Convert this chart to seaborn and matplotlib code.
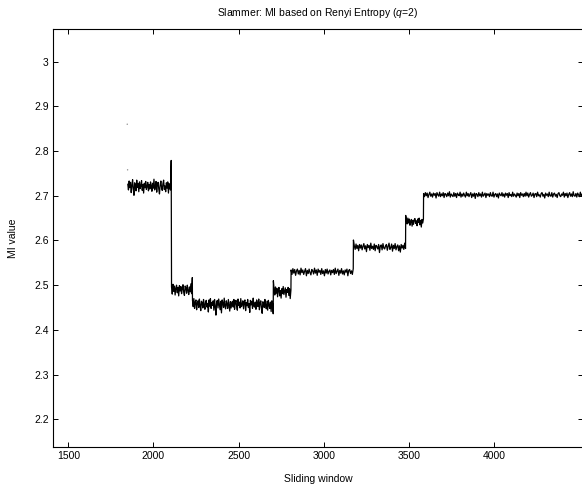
import numpy as np
import pandas as pd
import seaborn as sns
import matplotlib
matplotlib.use("Agg")
import matplotlib.pyplot as plt

# step segments: first window, last window, MI level
seg_starts = [1849, 2106, 2229, 2704, 2808, 3174, 3481, 3586]
seg_ends = [2104, 2228, 2703, 2807, 3173, 3480, 3585, 4522]
seg_levels = [2.721, 2.490, 2.458, 2.486, 2.530, 2.585, 2.642, 2.702]

# wiggle around each level, in thousandths
A_dev = [5, -8, 12, -3, 9, -14, 2, 15, -6, -20, 8, 3, -10, 14, -2, 6,
         -12, 10, -5, 1, 13, -9, 4, -15, 7, -3, 11, -7, 0, 9, -10, 4,
         -6, 10, 2, -11, 7, -4, 16, -8, -1, 11, -13, 5, 9, -6, -17, 3,
         12, -2, -9, 6, 14, -7, 1, -12, 8, -4, 10, -15, 6, -3, -8, 58]
B_dev = [6, -10, 12, -4, 8, -12, 3, 10, -7, 5, -14, 9, -3, 7, -9,
         2, 11, -6, -13, 8, 4, -8, 10, -2, -11, 6, -5, 13, -9, 27]
C_dev = [8, -6, 12, -10, 4, 9, -13, 2, 7, -8, 11, -4, -15, 6, 3, -9, 10, -2,
         -12, 5, 8, -7, 1, -18, 9, -5, 12, -10, 3, -3, 7, -14, 10, -6, -25, 4,
         8, -9, 11, -2, -13, 6, -20, 9, 2, -8, 13, -5, -11, 7, 0, -10, 10, -4,
         -16, 5, -9, 3, 6, -7, 10, -12, 2, 8, -5, -14, 11, -3, 4, -9, 12, -6,
         -1, 7, -11, 5, 9, -15, 3, -4, 10, -8, 1, -19, 8, -2, 6, -10, 13, -5,
         -7, 4, -12, 9, 0, -6, 11, -13, 3, 7, -9, -21, 5, 2, -8, 10, -4, -11,
         6, -14, 8, -3, -10, 4, -17, 7, 1, -22]
D_dev = [24, 5, -8, 10, -4, 7, -12, 3, 9, -10, 2, -15, 6,
         -5, 11, -7, 1, 8, -13, 4, -2, 9, -9, 6, -16, 3]
E_dev = [4, -6, 7, -3, 5, -8, 2, 6, -5, 3, -7, 8, -2, 4, -6, 1, 7, -9, 3, -4,
         6, -2, -7, 5, 2, -5, 8, -3, 4, -8, 6, -1, 3, -6, 7, -4, 2, -9, 5, -3,
         6, -5, 1, 4, -7, 3, -2, 5, -6, 8, -4, 1, 6, -8, 3, -3, 7, -5, 2, -7,
         4, -1, 6, -9, 3, 5, -4, 2, -6, 7]
F_dev = [16, 3, -5, 7, -3, 4, -8, 6, -2, 5, -6, 2, 8, -4, 3, -10, 6, -1, 4,
         -7, 9, -3, 2, -5, 7, -8, 4, 1, -4, 6, -12, 3, 5, -6, 8, -2, -4, 3,
         6, -7, 2, 9, -5, -1, 7, -9, 4, -3, 8, -6, 1, 5, -8, 3, -11, 6, -2,
         4, -5, 9, -3]
G_dev = [14, 2, -5, 8, -3, 6, -8, 1, 5, -10, 3, -6, 4,
         7, -4, 2, -9, 6, -2, 8, -7, 3, -12, 5, -3, 6]
H_dev = [3, -4, 5, -2, 4, -6, 1, 6, -3, 2, -5, 4, -1, 3, -7, 5, 0, -3, 6, -4,
         2, -2, 5, -6, 3, 1, -4, 4, -2, 7, -5, 2, -1, -4, 5, -3, 3, -6, 4, 0,
         -2, 6, -5, 2, -3, 4, -1, -5, 6, -2, 3, -4, 1, 5, -6, 2, -3, 4, -8, 3,
         1, -4, 5, -2, 2, -5, 6, -3, 0, 4, -6, 3, -1, 2, -4, 5, -2, -3, 6, -5,
         1, 3, -4, 2, -7, 4, 0, -2, 5, -3, 2, -5, 4, -1, 3, -6, 5, -2, 1, -4,
         6, -3, 2, -1, -5, 4, -2, 3, -6, 5, -1, 2, -4, 3, -3, 6, -2, 4, -5, 1,
         5, -3, -1, 4, -6, 2, 3, -4, 6, -2, 0, -5, 3, 5, -3, 1, -7, 4, -1, 2,
         -4, 6, -2, -3, 5, -5, 2, 4, -3, 1, -6, 3, 5, -2, -4, 2, -1, 6, -5, 3,
         -2, 4, -6, 1, 5, -3, 2, -4, 7, -2, -3, 3, -5, 4, 0, -4, 6, -3, 2, -1]
deviations = [A_dev, B_dev, C_dev, D_dev, E_dev, F_dev, G_dev, H_dev]

# two stray points before the first segment
stray_x = [1846, 1848]
stray_y = [2.860, 2.758]

yticks = [2.2, 2.3, 2.4, 2.5, 2.6, 2.7, 2.8, 2.9, 3.0]
ytick_labels = ["2.2", "2.3", "2.4", "2.5", "2.6", "2.7", "2.8", "2.9", "3"]
xticks = [1500, 2000, 2500, 3000, 3500, 4000]

windows, values = [], []
for start, end, level, dev in zip(seg_starts, seg_ends, seg_levels, deviations):
    windows.extend(np.linspace(start, end, len(dev)))
    values.extend(level + np.array(dev) / 1000.0)
df = pd.DataFrame({"window": windows, "mi": values})

sns.set_style("ticks")
plt.rcParams["font.family"] = ["Liberation Sans", "DejaVu Sans"]
plt.rcParams["mathtext.fontset"] = "custom"
plt.rcParams["mathtext.it"] = "Liberation Sans:italic"
plt.rcParams["mathtext.rm"] = "Liberation Sans"
plt.rcParams["text.color"] = "black"
plt.rcParams["axes.labelcolor"] = "black"
plt.rcParams["xtick.color"] = "black"
plt.rcParams["ytick.color"] = "black"

fig = plt.figure(figsize=(5.82, 4.91), dpi=100)
ax = fig.add_axes([53 / 582, 44 / 491, 530 / 582, 418 / 491])

sns.lineplot(data=df, x="window", y="mi", sort=False, estimator=None,
             color="black", linewidth=0.9, ax=ax)
sns.scatterplot(x=stray_x, y=stray_y, color="0.55", s=1.0,
                edgecolor="none", ax=ax)

ax.set_xlim(1410, 4522)
ax.set_ylim(2.138, 3.073)
ax.set_xticks(xticks)
ax.set_yticks(yticks)
ax.set_yticklabels(ytick_labels)
ax.tick_params(direction="in", length=3.5, width=0.7, labelsize=7.5,
               top=True, right=True, pad=3)
for side in ax.spines.values():
    side.set_visible(True)
    side.set_color("black")
    side.set_linewidth(0.8)

ax.set_xlabel("Sliding window", fontsize=7.5, labelpad=9)
ax.set_ylabel("MI value", fontsize=7.5, labelpad=12)
ax.set_title("Slammer: MI based on Renyi Entropy ($q$=2)", fontsize=7.5, pad=9)

fig.savefig("out.png", dpi=100)
